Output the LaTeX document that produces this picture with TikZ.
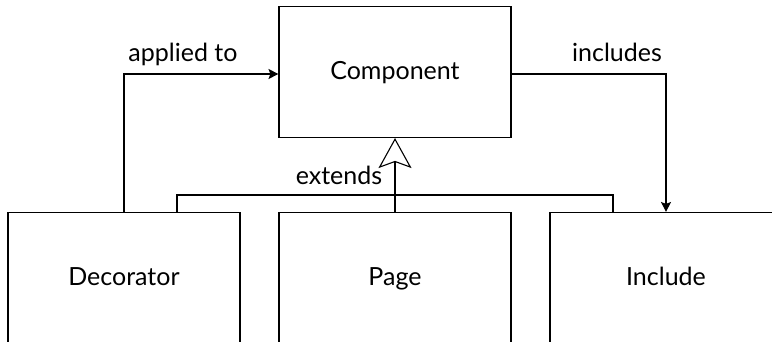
\documentclass[tikz,border=0pt]{standalone}
\usepackage{fontspec}
\setmainfont{Lato}
\usetikzlibrary{arrows.meta}
\begin{document}
\begin{tikzpicture}[x=1pt,y=-1pt,
  box/.style={draw,line width=1.1pt,minimum width=232pt,minimum height=131pt,inner sep=0pt,text height=18pt,text depth=2pt,font=\fontsize{25}{30}\selectfont},
  conn/.style={line width=1.1pt},
  lbl/.style={font=\fontsize{25}{30}\selectfont,inner sep=0pt,anchor=base}]
\useasboundingbox (0,0) rectangle (772,342);
\clip (0,0) rectangle (772,342);
\node[box] (comp) at (395,72) {Component};
\node[box] (dec) at (124,278) {Decorator};
\node[box] (page) at (395,278) {Page};
\node[box] (incl) at (666,278) {Include};
\coordinate (bl) at (177,195);
\coordinate (br) at (613,195);
\draw[conn,-{Stealth[length=10pt,width=10pt,inset=2pt]}] (dec.north) |- ([yshift=-2pt]comp.west);
\draw[conn,-{Stealth[length=10pt,width=10pt,inset=2pt]}] ([yshift=-2pt]comp.east) -| (incl.north);
\draw[conn] (dec.north -| bl) -- (bl) -- (br) -- (incl.north -| br);
\draw[conn,-{Stealth[open,length=30pt,width=33pt,inset=6pt]}] (page.north) -- (comp.south);
\node[lbl] (l1) at (183,62) {applied to};
\node[lbl] (l2) at (617,62) {includes};
\node[lbl] (l3) at (339,185) {extends};
\end{tikzpicture}
\end{document}
